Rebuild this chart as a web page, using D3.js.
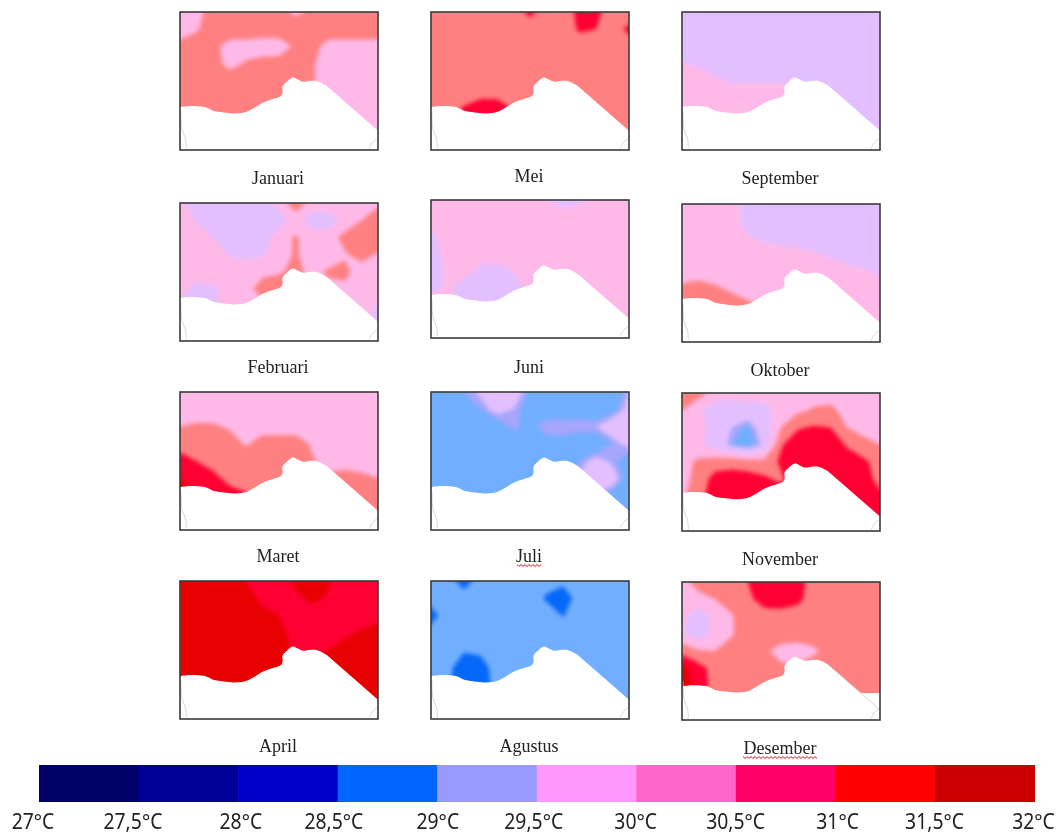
<!DOCTYPE html>
<html><head><meta charset="utf-8">
<style>html,body{margin:0;padding:0;background:#fff}svg{display:block;filter:blur(.35px)}</style>
<script src="https://cdn.jsdelivr.net/npm/d3@7"></script></head><body>
<script>
// Sea temperature (°C): 8 rows (north to south) x 13 columns (west to east)
const januari=[
[29.7,29.85,30.2,30.2,30.2,30.2,30.2,29.9,30.1,30.2,30.2,30.2,30.2],
[29.7,29.95,30.25,30.3,30.3,30.3,30.3,30.3,30.3,30.3,30.3,30.3,30.3],
[30.2,30.25,30.15,29.8,29.8,29.7,29.7,30.1,30.2,29.8,29.8,29.8,29.8],
[30.3,30.3,30.2,29.85,30.05,30.2,30.25,30.3,30.05,29.8,29.8,29.8,29.8],
[30.3,30.3,30.3,30.3,30.3,30.3,30.3,30.3,30.05,29.8,29.8,29.8,29.8],
[30.2,30.3,30.3,30.3,30.3,30.3,30.3,30.3,30.05,29.8,29.8,29.8,29.8],
[29.9,30.2,30.3,30.3,30.3,30.3,30.3,30.3,30.05,29.8,29.8,29.8,29.8],
[29.9,30.2,30.3,30.3,30.3,30.3,30.3,30.3,30.05,29.8,29.8,29.8,29.8]];
const mei=[
[30.3,30.3,30.3,30.3,30.3,30.3,30.6,30.3,30.3,30.6,30.6,30.3,30.3],
[30.3,30.3,30.3,30.3,30.3,30.3,30.3,30.3,30.3,30.55,30.5,30.3,30.6],
[30.3,30.3,30.3,30.3,30.3,30.3,30.3,30.3,30.3,30.3,30.3,30.3,30.3],
[30.3,30.3,30.3,30.3,30.3,30.3,30.3,30.3,30.3,30.3,30.3,30.3,30.3],
[30.3,30.3,30.3,30.3,30.3,30.3,30.3,30.3,30.3,30.3,30.3,30.3,30.3],
[30.3,30.3,30.35,30.48,30.48,30.3,30.3,30.3,30.3,30.3,30.3,30.3,30.3],
[30.3,30.3,30.7,30.9,30.9,30.6,30.3,30.3,30.3,30.3,30.3,30.3,30.3],
[30.3,30.3,30.7,30.9,30.9,30.6,30.3,30.3,30.3,30.3,30.3,30.3,30.3]];
const september=[
[29.2,29.2,29.2,29.2,29.2,29.2,29.2,29.2,29.2,29.2,29.2,29.2,29.2],
[29.2,29.2,29.2,29.2,29.2,29.2,29.2,29.2,29.2,29.2,29.2,29.2,29.2],
[29.2,29.2,29.2,29.2,29.2,29.2,29.2,29.2,29.2,29.2,29.2,29.2,29.2],
[29.55,29.4,29.2,29.2,29.2,29.2,29.2,29.2,29.2,29.2,29.2,29.2,29.2],
[29.8,29.8,29.6,29.45,29.45,29.45,29.45,29.3,29.2,29.2,29.2,29.2,29.2],
[29.8,29.8,29.8,29.8,29.8,29.8,29.8,29.6,29.2,29.2,29.2,29.2,29.2],
[29.8,29.8,29.8,29.8,29.8,29.8,29.8,29.8,29.2,29.2,29.2,29.2,29.2],
[29.8,29.8,29.8,29.8,29.8,29.8,29.8,29.8,29.2,29.2,29.2,29.2,29.2]];
const februari=[
[29.6,29.3,29.2,29.2,29.2,29.2,29.7,30.3,29.8,29.8,29.8,29.8,29.9],
[29.8,29.45,29.2,29.2,29.2,29.2,29.25,29.7,29.2,29.2,29.7,30.0,30.3],
[29.8,29.8,29.5,29.2,29.2,29.2,29.8,30.05,29.8,29.8,30.15,30.4,30.4],
[29.8,29.8,29.8,29.45,29.4,29.45,29.8,30.05,29.8,29.8,29.95,30.15,29.95],
[29.8,29.8,29.8,29.8,29.8,29.9,29.95,30.1,29.9,30.05,30.1,29.8,29.8],
[29.7,29.3,29.4,29.7,29.85,30.2,30.35,30.1,29.9,29.9,29.9,29.8,29.8],
[29.3,29.2,29.4,29.8,29.8,29.8,29.8,29.8,29.8,29.8,29.8,29.8,29.4],
[29.8,29.8,29.8,29.8,29.8,29.8,29.8,29.8,29.8,29.8,29.8,29.8,29.2]];
const juni=[
[29.8,29.8,29.8,29.8,29.8,29.8,29.8,29.55,29.2,29.4,29.8,29.8,29.8],
[29.8,29.8,29.8,29.8,29.8,29.8,29.8,29.8,29.8,29.8,29.8,29.8,29.8],
[29.4,29.8,29.8,29.8,29.8,29.8,29.8,29.8,29.8,29.8,29.8,29.8,29.8],
[29.2,29.7,29.8,29.8,29.8,29.8,29.8,29.8,29.8,29.8,29.8,29.8,29.8],
[29.2,29.6,29.75,29.4,29.35,29.55,29.8,29.8,29.8,29.8,29.8,29.8,29.8],
[29.2,29.6,29.3,29.2,29.2,29.3,29.7,29.8,29.8,29.8,29.8,29.8,29.8],
[29.7,29.7,29.3,29.2,29.2,29.3,29.8,29.8,29.8,29.8,29.8,29.8,29.8],
[29.8,29.8,29.3,29.2,29.2,29.3,29.8,29.8,29.8,29.8,29.8,29.8,29.8]];
const oktober=[
[29.4,29.7,29.8,29.7,29.3,29.2,29.2,29.2,29.2,29.2,29.2,29.2,29.2],
[29.8,29.8,29.8,29.7,29.3,29.2,29.2,29.2,29.2,29.2,29.2,29.2,29.2],
[29.8,29.8,29.8,29.7,29.55,29.4,29.3,29.3,29.2,29.2,29.2,29.2,29.2],
[29.8,29.8,29.8,29.8,29.8,29.8,29.8,29.7,29.6,29.45,29.3,29.2,29.2],
[29.85,29.85,29.8,29.8,29.8,29.8,29.8,29.8,29.8,29.8,29.7,29.6,29.45],
[30.1,30.2,30.1,29.95,29.85,29.8,29.8,29.8,29.8,29.8,29.8,29.8,29.8],
[30.3,30.3,30.3,30.3,30.1,30.0,29.8,29.8,29.8,29.8,29.8,29.8,29.8],
[30.3,30.3,30.3,30.3,30.3,30.0,29.8,29.8,29.8,29.8,29.8,29.8,29.8]];
const maret=[
[29.8,29.8,29.8,29.8,29.8,29.8,29.8,29.8,29.8,29.8,29.8,29.8,29.8],
[29.8,29.8,29.8,29.8,29.8,29.8,29.8,29.8,29.8,29.8,29.8,29.8,29.8],
[30.0,30.05,30.05,29.95,29.8,29.8,29.8,29.8,29.8,29.8,29.8,29.8,29.8],
[30.3,30.3,30.3,30.2,29.95,30.2,30.2,30.2,29.95,29.8,29.8,29.8,29.8],
[30.7,30.5,30.3,30.3,30.3,30.3,30.3,30.3,30.05,29.8,29.8,29.8,29.8],
[31.0,30.9,30.65,30.35,30.3,30.3,30.3,30.3,30.3,30.1,30.2,30.1,30.0],
[31.0,31.0,30.9,30.7,30.55,30.3,30.3,30.3,30.3,30.3,30.3,30.3,30.3],
[31.0,31.0,30.9,30.8,30.55,30.3,30.3,30.3,30.3,30.3,30.3,30.3,30.3]];
const juli=[
[28.7,28.7,28.9,29.05,29.3,29.2,28.85,28.7,28.7,28.7,28.7,28.7,29.0],
[28.7,28.7,28.7,28.9,29.1,29.0,28.75,28.75,28.75,28.75,28.7,28.8,29.1],
[28.7,28.7,28.7,28.7,28.75,28.95,28.8,29.0,29.0,29.0,29.0,29.2,29.4],
[28.7,28.7,28.7,28.7,28.7,28.75,28.7,28.8,28.8,28.7,28.7,28.9,29.1],
[28.7,28.7,28.7,28.7,28.7,28.7,28.7,28.7,28.7,28.9,29.1,28.95,28.75],
[28.7,28.7,28.7,28.7,28.7,28.7,28.7,28.7,28.7,29.05,29.35,29.15,28.75],
[28.7,28.7,28.7,28.7,28.7,28.7,28.7,28.7,28.7,28.7,28.95,28.8,28.7],
[28.7,28.7,28.7,28.7,28.7,28.7,28.7,28.7,28.7,28.7,28.7,28.7,28.7]];
const november=[
[30.3,30.2,29.8,29.8,29.8,29.8,29.8,29.8,29.8,29.8,29.8,29.8,29.8],
[30.0,29.6,29.2,29.0,29.2,29.3,29.7,29.9,30.05,30.1,29.85,29.8,29.8],
[29.8,29.7,29.3,29.0,28.85,29.2,30.0,30.45,30.55,30.5,30.0,29.8,29.8],
[29.7,29.6,29.3,28.9,28.7,29.1,30.45,30.8,30.8,30.8,30.45,30.2,30.0],
[29.8,30.1,30.25,30.3,30.2,30.15,30.6,30.9,30.9,30.85,30.75,30.6,30.3],
[29.8,30.2,30.7,30.75,30.75,30.6,30.4,30.9,30.9,30.9,30.8,30.7,30.35],
[29.9,30.3,30.8,30.8,30.8,30.8,30.8,30.8,30.8,30.8,30.8,30.8,30.6],
[30.8,30.8,30.8,30.8,30.8,30.8,30.8,30.8,30.8,30.8,30.8,30.8,30.8]];
const april=[
[31.3,31.3,31.3,31.3,31.0,30.8,30.8,31.1,31.3,31.05,30.8,30.8,30.8],
[31.3,31.3,31.3,31.3,31.2,30.9,30.8,30.9,31.1,30.95,30.8,30.8,30.8],
[31.3,31.3,31.3,31.3,31.3,31.1,31.0,30.8,30.8,30.8,30.8,30.8,30.85],
[31.3,31.3,31.3,31.3,31.3,31.3,31.1,30.85,30.8,30.85,30.9,31.05,31.2],
[31.3,31.3,31.3,31.3,31.3,31.3,31.3,30.9,30.85,31.0,31.2,31.3,31.3],
[31.3,31.3,31.3,31.3,31.3,31.3,31.3,31.3,31.3,31.3,31.3,31.3,31.3],
[31.3,31.3,31.3,31.3,31.3,31.3,31.3,31.3,31.3,31.3,31.3,31.3,31.3],
[31.3,31.3,31.3,31.3,31.3,31.3,31.3,31.3,31.3,31.3,31.3,31.3,31.3]];
const agustus=[
[28.7,28.7,28.3,28.7,28.7,28.7,28.7,28.65,28.6,28.7,28.7,28.7,28.7],
[28.7,28.7,28.7,28.7,28.7,28.7,28.7,28.45,28.25,28.7,28.7,28.7,28.7],
[28.3,28.75,28.7,28.7,28.7,28.7,28.7,28.7,28.48,28.7,28.7,28.7,28.7],
[28.7,28.7,28.7,28.7,28.7,28.7,28.7,28.7,28.7,28.7,28.7,28.7,28.7],
[28.7,28.7,28.55,28.6,28.7,28.7,28.7,28.7,28.7,28.7,28.7,28.7,28.7],
[28.7,28.65,28.2,28.3,28.7,28.7,28.7,28.7,28.7,28.7,28.7,28.7,28.7],
[28.7,28.55,28.2,28.2,28.7,28.7,28.7,28.7,28.7,28.7,28.7,28.7,28.7],
[28.7,28.7,28.7,28.7,28.7,28.7,28.7,28.7,28.7,28.7,28.7,28.7,28.7]];
const desember=[
[29.8,30.25,30.3,30.3,30.5,30.7,30.7,30.6,30.4,30.4,30.3,30.3,30.3],
[29.7,29.8,30.0,30.2,30.4,30.7,30.75,30.6,30.3,30.3,30.3,30.3,30.3],
[29.6,29.2,29.7,29.95,30.3,30.3,30.3,30.3,30.3,30.3,30.3,30.3,30.3],
[29.55,29.2,29.6,29.95,30.3,30.3,30.3,30.3,30.3,30.3,30.3,30.3,30.3],
[30.3,30.05,30.0,30.2,30.3,30.1,29.8,29.7,29.9,30.2,30.3,30.3,30.3],
[31.2,30.7,30.3,30.3,30.3,30.25,30.1,30.1,30.3,30.3,30.3,30.3,30.3],
[31.3,30.8,30.3,30.3,30.3,30.3,30.3,30.3,30.3,30.3,30.3,30.3,30.3],
[30.9,30.3,30.3,30.3,30.3,30.3,30.3,30.3,30.3,30.3,30.3,30.3,30.3]];

const months=["Januari","Mei","September","Februari","Juni","Oktober","Maret","Juli","November","April","Agustus","Desember"];
const fields=[januari,mei,september,februari,juni,oktober,maret,juli,november,april,agustus,desember];
// Map colour bands: lower bound of each band and its fill
const bandFloors=[0,28.5,28.9,29.0,29.5,30,30.5,31];
const bandColors=["#0568f8","#72aeff","#a6a6fb","#e3bfff","#ffb9e8","#ff8080","#ff0033","#e60000"];
// Legend
const legendStops=[27,27.5,28,28.5,29,29.5,30,30.5,31,31.5,32];
const legendLabels=["27°C","27,5°C","28°C","28,5°C","29°C","29,5°C","30°C","30,5°C","31°C","31,5°C","32°C"];
const legendColors=["#000066","#000099","#0000cc","#0066ff","#9999ff","#ff99ff","#ff66cc","#ff0066","#ff0000","#cc0000"];
// Coast outline as fractions of a map panel [x, y]
const coast=[[0,.69],[.05,.682],[.118,.687],[.145,.70],[.168,.716],[.22,.728],[.27,.735],[.31,.732],[.336,.723],[.38,.69],[.42,.655],[.47,.63],[.508,.61],[.518,.585],[.518,.54],[.54,.505],[.57,.475],[.595,.49],[.62,.505],[.65,.5],[.69,.5],[.74,.535],[1,.86]];
const islandWest=[[.005,.72],[.01,.85],[.028,.92],[.032,.99]];
const islandEast=[[.995,.92],[.975,.94],[.955,.99]];

const W=1062,H=836;
const svg=d3.select("body").append("svg").attr("width",W).attr("height",H);
const colLeft=d3.scaleOrdinal().domain([0,1,2]).range([180,431,682]);
const panelTops=[12,12,12,203,200,204,392,392,393,581,581,582];
const labelYs=[178,176,178,367,367,370,556,556,559,746,746,748];
const coastShift=[0,0,0,0,0,0,0,0,.035,0,0,.066];
const labelNudge=[-6,-5.6,2.8,-3.8,.6,-3,-.6,-.2,2.2,-.4,-1];
const pw=198,ph=138;
const nRows=januari.length,nCols=januari[0].length;
const defs=svg.append("defs");

fields.forEach((grid,i)=>{
  const left=colLeft(i%3),top=panelTops[i];
  const fx=d3.scaleLinear().domain([0,1]).range([left,left+pw]);
  const fy=d3.scaleLinear().domain([0,1]).range([top,top+ph]);
  const gx=d3.scaleLinear().domain([.5,nCols-.5]).range([left,left+pw]);
  const gy=d3.scaleLinear().domain([.5,nRows-.5]).range([top,top+ph*.875]);
  const projection=d3.geoTransform({point(x,y){this.stream.point(gx(x),gy(y));}});
  const path=d3.geoPath(projection);
  const contours=d3.contours().size([nCols,nRows]).smooth(true).thresholds(bandFloors)(grid.flat());
  const id="clip"+i;
  defs.append("clipPath").attr("id",id).append("rect").attr("x",left).attr("y",top).attr("width",pw).attr("height",ph);
  const g=svg.append("g").attr("clip-path",`url(#${id})`);
  g.append("rect").attr("x",left).attr("y",top).attr("width",pw).attr("height",ph).attr("fill",bandColors[0]);
  g.append("g").style("filter","blur(2px)").selectAll("path").data(contours).join("path")
    .attr("d",path).attr("fill",(d,k)=>bandColors[k]);
  const line=d3.line().x(d=>fx(d[0])).y(d=>fy(d[1])).curve(d3.curveCatmullRom.alpha(.5));
  const straight=d3.line().x(d=>fx(d[0])).y(d=>fy(d[1]));
  const s=coastShift[i];
  const land=coast.map(d=>[d[0],d[1]+s]);
  const head=land.slice(0,-1);
  g.append("path").attr("d",line(head)+straight(land.slice(-2)).replace(/^M/,"L")+straight([[1,1],[0,1]]).replace(/^M/,"L")+"Z").attr("fill","#fff");
  if(months[i]==="Desember"){
    g.append("rect").attr("x",fx(.885)).attr("y",fy(.805)).attr("width",pw*.115+1).attr("height",ph*.2).attr("fill","#fff");
    g.append("path").attr("d",straight(land.slice(-2))).attr("fill","none").attr("stroke","#ccc").attr("stroke-width",.8);
  }
  [islandWest,islandEast].forEach(t=>g.append("path").attr("d",line(t)).attr("fill","none").attr("stroke","#ccc").attr("stroke-width",.8));
  svg.append("rect").attr("x",left).attr("y",top).attr("width",pw).attr("height",ph)
    .attr("fill","none").attr("stroke","#3a3a3a").attr("stroke-width",1.6);
  const cx=left+pw/2-1;
  svg.append("text").attr("x",cx).attr("y",labelYs[i]).attr("dy",".35em").attr("text-anchor","middle")
    .attr("font-family","'Liberation Serif',serif").attr("font-size",18).attr("fill","#222").text(months[i]);
  if(months[i]==="Juli"||months[i]==="Desember"){
    const half=months[i]==="Juli"?12:37;
    const xs=d3.range(cx-half,cx+half+.1,2);
    svg.append("path").attr("d",d3.line().x(d=>d).y((d,k)=>labelYs[i]+9+(k%2?1.4:-.4))(xs))
      .attr("fill","none").attr("stroke","#e01818").attr("stroke-width",1);
  }
});

const lx=d3.scaleLinear().domain([27,32]).range([39,1034.5]);
const legend=svg.append("g");
legend.selectAll("rect").data(legendColors).join("rect")
  .attr("x",(d,i)=>lx(legendStops[i])).attr("y",765)
  .attr("width",(d,i)=>lx(legendStops[i+1])-lx(legendStops[i])+.5).attr("height",37).attr("fill",d=>d);
legend.selectAll("text").data(legendLabels).join("text")
  .attr("x",(d,i)=>lx(legendStops[i])+labelNudge[i]).attr("y",821).attr("dy",".35em").attr("text-anchor","middle")
  .attr("font-family","'Noto Sans',sans-serif").attr("font-size",22).attr("fill","#222").text(d=>d)
  .each(function(){const n=this.getComputedTextLength();d3.select(this).attr("textLength",n*.88).attr("lengthAdjust","spacingAndGlyphs");});
</script></body></html>
